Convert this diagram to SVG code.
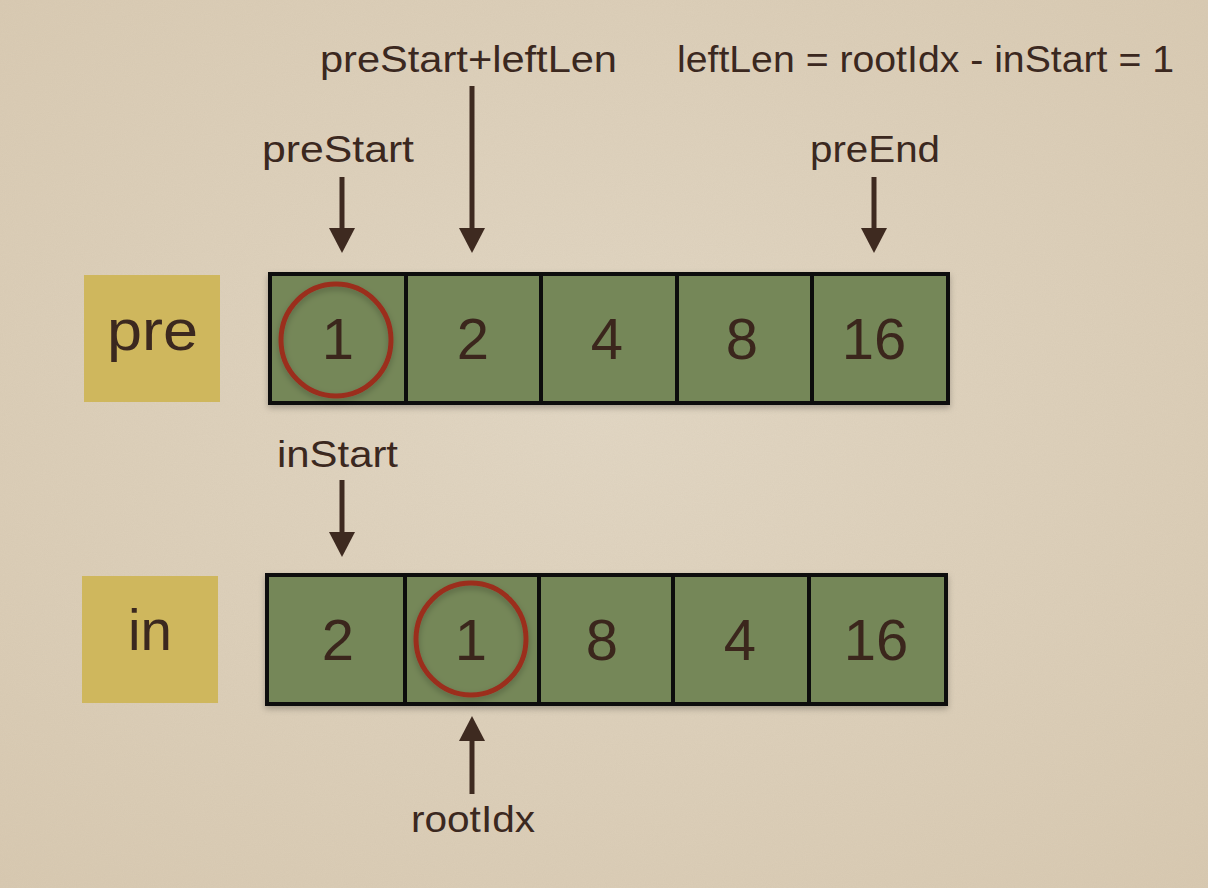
<svg xmlns="http://www.w3.org/2000/svg" width="1208" height="888" viewBox="0 0 1208 888">
<defs>
<radialGradient id="bg" cx="50%" cy="45%" r="75%">
<stop offset="0" stop-color="#e2d7c4"/>
<stop offset="1" stop-color="#d8c9b1"/>
</radialGradient>
<filter id="noise" x="0" y="0" width="100%" height="100%">
<feTurbulence type="fractalNoise" baseFrequency="0.9" numOctaves="2" seed="3" result="n"/>
<feColorMatrix in="n" type="matrix" values="0 0 0 0 0.45  0 0 0 0 0.38  0 0 0 0 0.28  0 0 0 0.10 0"/>
</filter>
<filter id="sh" x="-10%" y="-10%" width="120%" height="125%">
<feDropShadow dx="0" dy="3" stdDeviation="3" flood-color="#000" flood-opacity="0.25"/>
</filter>
<marker id="ah" markerUnits="userSpaceOnUse" markerWidth="26" markerHeight="26" refX="5" refY="13" orient="auto">
<path d="M0,0 L25,13 L0,26 Z" fill="#3e2a20"/>
</marker>
<style>
.cell{fill:#748758;stroke:#0a0a0a;stroke-width:4}
.lab{fill:#cfb75d}
.t{font-family:"Liberation Sans","DejaVu Sans",sans-serif;fill:#3b281f}
.lbl{font-size:36px}
.dig{font-size:58px;text-anchor:middle}
.big{font-size:58px}
.ring{fill:none;stroke:#9b2d1f;stroke-width:5}
.arr{stroke:#3e2a20;stroke-width:5;fill:none;marker-end:url(#ah)}
</style>
</defs>
<rect width="1208" height="888" fill="url(#bg)"/>
<rect width="1208" height="888" filter="url(#noise)"/>

<g id="label-pre"><rect class="lab" x="84" y="275" width="136" height="127"/><text class="t big" x="107" y="350" textLength="91" lengthAdjust="spacingAndGlyphs">pre</text></g>
<g id="label-in"><rect class="lab" x="82" y="576" width="136" height="127"/><text class="t big" x="128" y="650" textLength="44" lengthAdjust="spacingAndGlyphs">in</text></g>

<g id="pre-array" filter="url(#sh)">
<g id="pre-0"><rect class="cell" x="270" y="274" width="136" height="129"/><text class="t dig" x="338" y="359">1</text></g>
<g id="pre-1"><rect class="cell" x="406" y="274" width="135" height="129"/><text class="t dig" x="473" y="359">2</text></g>
<g id="pre-2"><rect class="cell" x="541" y="274" width="136" height="129"/><text class="t dig" x="607" y="359">4</text></g>
<g id="pre-3"><rect class="cell" x="677" y="274" width="135" height="129"/><text class="t dig" x="742" y="359">8</text></g>
<g id="pre-4"><rect class="cell" x="812" y="274" width="136" height="129"/><text class="t dig" x="874" y="359">16</text></g>
</g>
<g id="in-array" filter="url(#sh)">
<g id="in-0"><rect class="cell" x="267" y="575" width="138" height="129"/><text class="t dig" x="338" y="660">2</text></g>
<g id="in-1"><rect class="cell" x="405" y="575" width="134" height="129"/><text class="t dig" x="471" y="660">1</text></g>
<g id="in-2"><rect class="cell" x="539" y="575" width="134" height="129"/><text class="t dig" x="602" y="660">8</text></g>
<g id="in-3"><rect class="cell" x="673" y="575" width="136" height="129"/><text class="t dig" x="740" y="660">4</text></g>
<g id="in-4"><rect class="cell" x="809" y="575" width="137" height="129"/><text class="t dig" x="876" y="660">16</text></g>
</g>

<g id="circles" filter="url(#sh)">
<ellipse class="ring" cx="336" cy="340" rx="55" ry="56"/>
<ellipse class="ring" cx="471" cy="639" rx="55" ry="56"/>
</g>

<g id="labels">
<text class="t lbl" x="320" y="72" textLength="297" lengthAdjust="spacingAndGlyphs">preStart+leftLen</text>
<text class="t lbl" x="677" y="72" textLength="497" lengthAdjust="spacingAndGlyphs">leftLen = rootIdx - inStart = 1</text>
<text class="t lbl" x="262" y="162" textLength="152" lengthAdjust="spacingAndGlyphs">preStart</text>
<text class="t lbl" x="810" y="162" textLength="130" lengthAdjust="spacingAndGlyphs">preEnd</text>
<text class="t lbl" x="277" y="467" textLength="121" lengthAdjust="spacingAndGlyphs">inStart</text>
<text class="t lbl" x="411" y="832" textLength="124" lengthAdjust="spacingAndGlyphs">rootIdx</text>
</g>

<g id="connectors">
<line class="arr" x1="342" y1="177" x2="342" y2="233"/>
<line class="arr" x1="472" y1="86" x2="472" y2="233"/>
<line class="arr" x1="874" y1="177" x2="874" y2="233"/>
<line class="arr" x1="342" y1="480" x2="342" y2="537"/>
<line class="arr" x1="472" y1="794" x2="472" y2="736"/>
</g>
</svg>
